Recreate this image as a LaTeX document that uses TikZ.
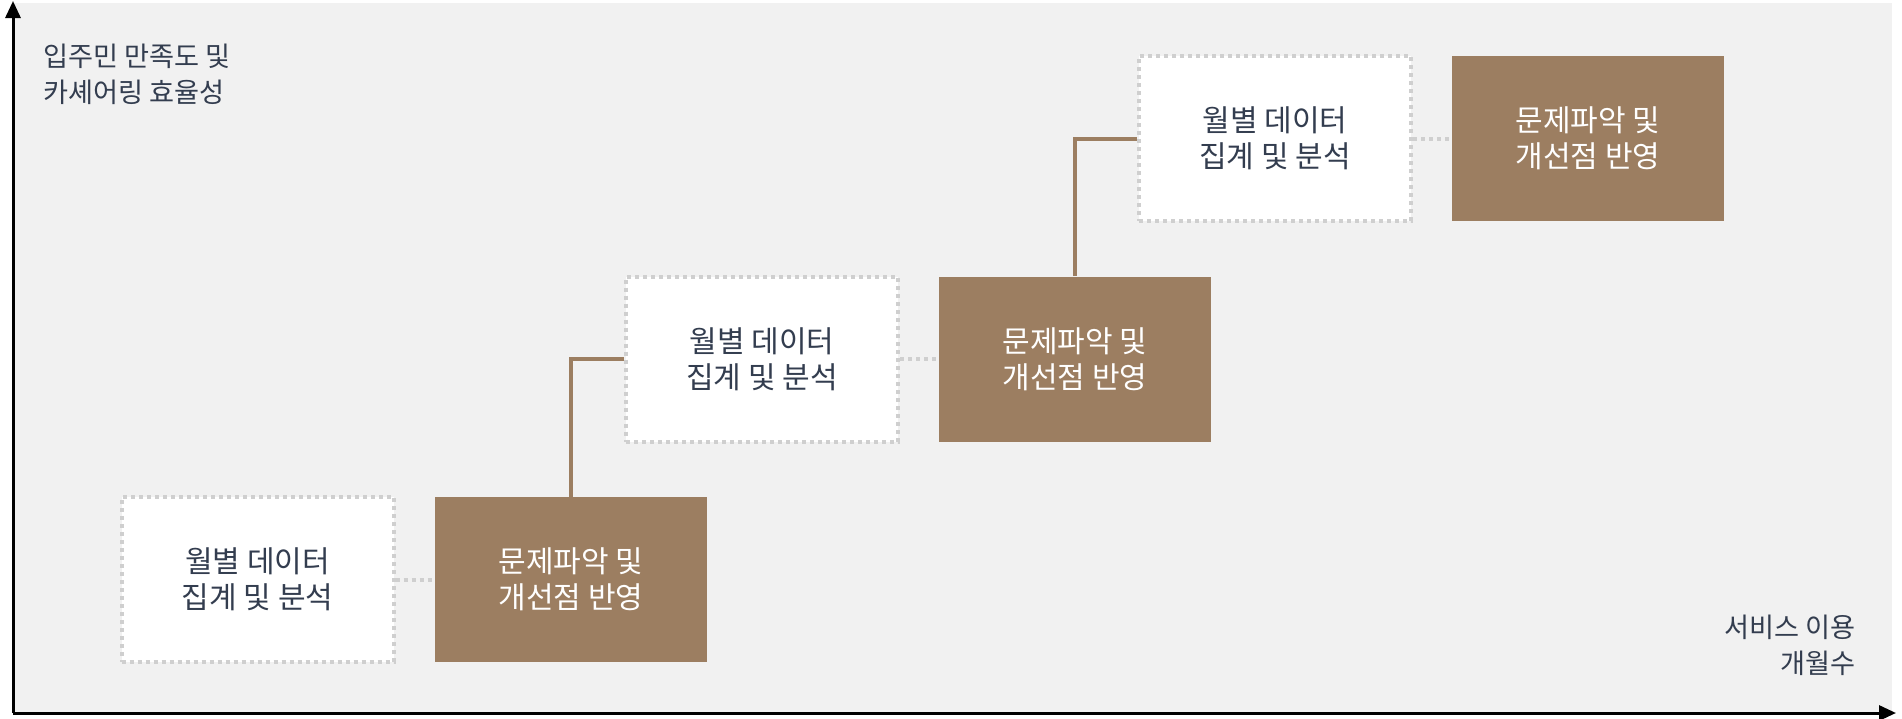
\documentclass[tikz,border=0pt]{standalone}
\usepackage{fontspec}
\setmainfont{Noto Sans CJK KR}
\usepackage{tikz}
\usepackage{xcolor}
\usetikzlibrary{arrows.meta, positioning}

\definecolor{bggrey}{HTML}{F1F1F1}
\definecolor{dotgrey}{HTML}{CFCFCF}
\definecolor{mocha}{HTML}{9C7E61}
\definecolor{slate}{HTML}{333D4F}

\tikzset{
    databox/.style={rectangle, fill=white, draw=dotgrey, line width=2pt, dash pattern=on 2pt off 2pt,
        minimum width=136pt, minimum height=82.5pt, align=center, text=slate,
        font=\fontsize{15}{18}\selectfont},
    fixbox/.style={rectangle, fill=mocha, minimum width=136pt, minimum height=82.5pt,
        align=center, text=white, font=\fontsize{15}{18}\selectfont},
    dotlink/.style={draw=dotgrey, line width=2pt, dash pattern=on 2pt off 2pt},
    steplink/.style={draw=mocha, line width=2pt},
    axislabel/.style={text=slate, inner sep=0pt, font=\fontsize{13.6}{18}\selectfont}
}

\begin{document}
\begin{tikzpicture}[x=0.5pt, y=-0.5pt]
                        \useasboundingbox (0,0) rectangle (1902,718);
                        \fill[bggrey] (13,3) rectangle (1892,712);

                        \coordinate (O) at (13,713);
                        \coordinate (ytop) at (13,1);
                        \coordinate (xend) at (1896,713);
                        \draw[line width=1.5pt, -{Triangle[length=8.5pt, width=7.5pt]}] (O) -- (ytop);
                        \draw[line width=1.5pt, -{Triangle[length=8.5pt, width=7.5pt]}] (O) -- (xend);

                        \node[axislabel, anchor=west, align=left] (ylab) at (43,74) {입주민 만족도 및\\카셰어링 효율성};
                        \node[axislabel, anchor=east, align=right] (xlab) at (1856,645) {서비스 이용\\개월수};

                        \node[databox] (w1) at (257.5,579.5) {월별 데이터\\집계 및 분석};
                        \node[fixbox] (b1) at (571,579.5) {문제파악 및\\개선점 반영};
                        \node[databox] (w2) at (762,359) {월별 데이터\\집계 및 분석};
                        \node[fixbox] (b2) at (1075,359) {문제파악 및\\개선점 반영};
                        \node[databox] (w3) at (1275,138.5) {월별 데이터\\집계 및 분석};
                        \node[fixbox] (b3) at (1588,138.5) {문제파악 및\\개선점 반영};

                        \draw[dotlink]
                        (w1.east) -- (b1.west)
                        (w2.east) -- (b2.west)
                        (w3.east) -- (b3.west);

                        \draw[steplink]
                        (b1.north) |- (w2.west)
                        (b2.north) |- (w3.west);
                    \end{tikzpicture}
\end{document}
